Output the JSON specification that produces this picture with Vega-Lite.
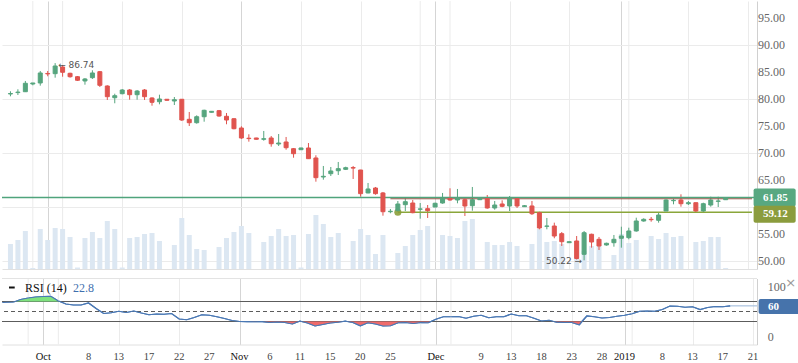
{
  "$schema": "https://vega.github.io/schema/vega-lite/v6.json",
  "padding": 0,
  "background": "white",
  "spacing": 5.5,
  "config": {"view": {"stroke": null}, "axis": {"labelFont": "Liberation Serif", "titleFont": "Liberation Serif"}},
  "datasets": {
    "candles": [
      {"i":0,"o":81.02,"h":81.52,"l":80.59,"c":81.11,"v":25},
      {"i":1,"o":81.28,"h":81.89,"l":80.83,"c":81.37,"v":29},
      {"i":2,"o":81.44,"h":83.43,"l":81.39,"c":83.00,"v":38},
      {"i":3,"o":82.87,"h":83.06,"l":82.63,"c":83.06,"v":1},
      {"i":4,"o":83.06,"h":85.28,"l":82.56,"c":84.91,"v":40},
      {"i":5,"o":84.82,"h":85.28,"l":84.30,"c":84.74,"v":29},
      {"i":6,"o":84.78,"h":86.74,"l":84.04,"c":86.20,"v":41},
      {"i":7,"o":86.02,"h":86.39,"l":84.22,"c":85.04,"v":40},
      {"i":8,"o":84.85,"h":84.96,"l":84.04,"c":84.22,"v":32},
      {"i":9,"o":84.22,"h":84.35,"l":83.43,"c":83.56,"v":1.5},
      {"i":10,"o":83.43,"h":83.98,"l":82.74,"c":83.80,"v":31},
      {"i":11,"o":84.04,"h":85.41,"l":83.80,"c":84.91,"v":37},
      {"i":12,"o":85.15,"h":85.28,"l":82.31,"c":82.63,"v":31},
      {"i":13,"o":82.50,"h":82.63,"l":79.91,"c":80.52,"v":48},
      {"i":14,"o":80.33,"h":81.07,"l":79.30,"c":80.70,"v":40},
      {"i":15,"o":81.07,"h":81.94,"l":80.96,"c":81.76,"v":1.5},
      {"i":16,"o":81.76,"h":81.94,"l":79.96,"c":80.89,"v":31},
      {"i":17,"o":80.89,"h":81.76,"l":79.96,"c":81.57,"v":32},
      {"i":18,"o":81.76,"h":81.94,"l":79.91,"c":80.52,"v":35},
      {"i":19,"o":80.28,"h":80.41,"l":78.85,"c":79.48,"v":36},
      {"i":20,"o":79.59,"h":80.89,"l":79.11,"c":80.09,"v":28},
      {"i":21,"o":80.04,"h":80.09,"l":79.80,"c":79.85,"v":0},
      {"i":22,"o":79.72,"h":80.46,"l":78.98,"c":79.96,"v":24},
      {"i":23,"o":80.04,"h":80.09,"l":76.02,"c":76.20,"v":51},
      {"i":24,"o":76.33,"h":77.69,"l":75.09,"c":75.70,"v":34},
      {"i":25,"o":75.70,"h":77.07,"l":75.52,"c":76.81,"v":20},
      {"i":26,"o":76.81,"h":78.11,"l":75.89,"c":78.00,"v":19},
      {"i":27,"o":77.63,"h":77.87,"l":77.57,"c":77.81,"v":0},
      {"i":28,"o":77.93,"h":78.06,"l":76.81,"c":76.94,"v":22},
      {"i":29,"o":76.89,"h":77.50,"l":75.41,"c":76.20,"v":31},
      {"i":30,"o":76.44,"h":76.52,"l":74.48,"c":74.59,"v":37},
      {"i":31,"o":74.72,"h":75.04,"l":72.69,"c":72.87,"v":43},
      {"i":32,"o":72.83,"h":73.56,"l":72.19,"c":72.76,"v":36},
      {"i":33,"o":72.87,"h":72.91,"l":72.56,"c":72.63,"v":0},
      {"i":34,"o":72.63,"h":74.17,"l":72.37,"c":72.74,"v":27},
      {"i":35,"o":72.87,"h":73.24,"l":71.26,"c":71.81,"v":33},
      {"i":36,"o":71.76,"h":73.61,"l":71.39,"c":71.94,"v":40},
      {"i":37,"o":72.13,"h":73.06,"l":70.70,"c":71.07,"v":33},
      {"i":38,"o":70.89,"h":71.02,"l":69.22,"c":69.96,"v":34},
      {"i":39,"o":70.70,"h":71.07,"l":70.67,"c":71.02,"v":1.5},
      {"i":40,"o":71.02,"h":71.94,"l":68.98,"c":69.04,"v":35},
      {"i":41,"o":69.17,"h":69.67,"l":64.78,"c":65.52,"v":54},
      {"i":42,"o":65.65,"h":67.69,"l":65.15,"c":65.78,"v":45},
      {"i":43,"o":66.26,"h":67.50,"l":65.83,"c":66.76,"v":32},
      {"i":44,"o":66.81,"h":68.43,"l":66.02,"c":67.19,"v":36},
      {"i":45,"o":67.07,"h":67.56,"l":66.94,"c":67.37,"v":0},
      {"i":46,"o":67.39,"h":67.69,"l":65.28,"c":67.30,"v":28},
      {"i":47,"o":66.94,"h":66.98,"l":62.00,"c":62.56,"v":40},
      {"i":48,"o":62.69,"h":64.54,"l":62.63,"c":63.43,"v":34},
      {"i":49,"o":63.61,"h":63.80,"l":62.37,"c":62.56,"v":15},
      {"i":50,"o":62.69,"h":62.87,"l":58.48,"c":59.22,"v":34},
      {"i":51,"o":59.22,"h":59.72,"l":58.93,"c":59.30,"v":0},
      {"i":52,"o":59.41,"h":61.20,"l":59.17,"c":60.65,"v":16},
      {"i":53,"o":60.52,"h":61.70,"l":59.35,"c":61.07,"v":23},
      {"i":54,"o":60.83,"h":61.39,"l":58.93,"c":59.04,"v":34},
      {"i":55,"o":59.67,"h":60.83,"l":57.93,"c":59.74,"v":39},
      {"i":56,"o":59.78,"h":60.46,"l":58.06,"c":59.41,"v":43},
      {"i":57,"o":60.09,"h":60.89,"l":60.04,"c":60.78,"v":0},
      {"i":58,"o":60.83,"h":62.69,"l":60.70,"c":61.70,"v":34},
      {"i":59,"o":61.70,"h":63.56,"l":61.26,"c":61.39,"v":33},
      {"i":60,"o":61.39,"h":63.43,"l":60.78,"c":61.81,"v":31},
      {"i":61,"o":61.44,"h":61.63,"l":58.43,"c":60.28,"v":48},
      {"i":62,"o":60.33,"h":63.80,"l":59.41,"c":61.44,"v":50},
      {"i":63,"o":61.44,"h":61.67,"l":61.41,"c":61.63,"v":0},
      {"i":64,"o":61.63,"h":62.31,"l":59.78,"c":59.91,"v":27},
      {"i":65,"o":59.91,"h":61.20,"l":59.59,"c":60.46,"v":24},
      {"i":66,"o":60.65,"h":61.33,"l":60.04,"c":60.22,"v":24},
      {"i":67,"o":60.28,"h":62.13,"l":59.35,"c":61.63,"v":27},
      {"i":68,"o":61.63,"h":61.67,"l":59.91,"c":60.28,"v":23},
      {"i":69,"o":60.15,"h":60.46,"l":60.09,"c":60.33,"v":0},
      {"i":70,"o":60.28,"h":61.20,"l":58.61,"c":58.85,"v":25},
      {"i":71,"o":59.04,"h":59.22,"l":55.96,"c":56.20,"v":40},
      {"i":72,"o":56.52,"h":58.06,"l":55.96,"c":56.57,"v":27},
      {"i":73,"o":56.57,"h":57.19,"l":54.30,"c":54.72,"v":28},
      {"i":74,"o":55.15,"h":55.46,"l":52.87,"c":53.67,"v":25},
      {"i":75,"o":53.48,"h":53.70,"l":53.44,"c":53.67,"v":0},
      {"i":76,"o":53.80,"h":54.72,"l":50.37,"c":50.56,"v":28},
      {"i":77,"o":51.33,"h":55.65,"l":50.22,"c":55.33,"v":18},
      {"i":78,"o":55.04,"h":55.15,"l":52.56,"c":53.61,"v":23},
      {"i":79,"o":54.11,"h":54.54,"l":52.13,"c":52.87,"v":30},
      {"i":80,"o":53.06,"h":53.48,"l":52.93,"c":53.37,"v":0},
      {"i":81,"o":53.48,"h":54.91,"l":52.74,"c":54.11,"v":14},
      {"i":82,"o":54.30,"h":56.44,"l":52.56,"c":54.72,"v":35},
      {"i":83,"o":54.41,"h":56.26,"l":54.11,"c":55.65,"v":26},
      {"i":84,"o":55.65,"h":58.11,"l":55.52,"c":57.50,"v":29},
      {"i":85,"o":57.50,"h":58.00,"l":57.37,"c":57.81,"v":0},
      {"i":86,"o":57.81,"h":58.24,"l":57.37,"c":57.74,"v":33},
      {"i":87,"o":57.63,"h":59.04,"l":57.19,"c":58.61,"v":30},
      {"i":88,"o":59.35,"h":61.52,"l":59.35,"c":61.39,"v":36},
      {"i":89,"o":61.26,"h":61.63,"l":60.59,"c":61.33,"v":32},
      {"i":90,"o":61.39,"h":62.44,"l":60.15,"c":60.70,"v":33},
      {"i":91,"o":60.70,"h":61.20,"l":60.46,"c":60.89,"v":0},
      {"i":92,"o":60.89,"h":60.89,"l":59.04,"c":59.35,"v":27},
      {"i":93,"o":59.35,"h":60.89,"l":59.17,"c":60.70,"v":28},
      {"i":94,"o":60.46,"h":62.00,"l":60.15,"c":61.39,"v":32},
      {"i":95,"o":61.15,"h":62.00,"l":60.09,"c":61.20,"v":32},
      {"i":96,"o":61.44,"h":61.89,"l":61.44,"c":61.85,"v":1}
    ],
    "rsi": [
      {"i":-0.4,"r":68},{"i":0,"r":68.5},{"i":1,"r":69},{"i":1.3,"r":70},{"i":2,"r":74},{"i":3,"r":77},{"i":4,"r":79},{"i":5,"r":80},{"i":6,"r":80.5},{"i":7,"r":71},{"i":7.2,"r":70},{"i":8,"r":65},{"i":9,"r":63},{"i":10,"r":63},{"i":11,"r":67},{"i":12,"r":56},{"i":13,"r":46},{"i":14,"r":47.5},{"i":15,"r":50.5},{"i":16,"r":48},{"i":17,"r":51},{"i":18,"r":47},{"i":19,"r":43.5},{"i":20,"r":45},{"i":21,"r":44.5},{"i":22,"r":46},{"i":23,"r":35},{"i":24,"r":33.5},{"i":25,"r":38},{"i":26,"r":43.5},{"i":27,"r":42.5},{"i":28,"r":39.5},{"i":29,"r":36},{"i":30,"r":32},{"i":31,"r":30},{"i":32,"r":29.7},{"i":33,"r":29.5},{"i":34,"r":29.8},{"i":35,"r":28},{"i":36,"r":29},{"i":37,"r":28},{"i":38,"r":25},{"i":38.85,"r":30},{"i":39,"r":30.8},{"i":39.2,"r":30},{"i":40,"r":27},{"i":41,"r":21},{"i":42,"r":24},{"i":43,"r":27},{"i":44,"r":28.5},{"i":44.7,"r":30},{"i":45,"r":30.6},{"i":45.25,"r":30},{"i":46,"r":28},{"i":47,"r":21.5},{"i":48,"r":27.5},{"i":49,"r":25},{"i":50,"r":21},{"i":51,"r":21.5},{"i":52,"r":27.5},{"i":53,"r":28},{"i":54,"r":26},{"i":55,"r":28},{"i":56,"r":27.5},{"i":56.35,"r":30},{"i":57,"r":34.5},{"i":58,"r":39.5},{"i":59,"r":39.5},{"i":60,"r":40},{"i":61,"r":36.5},{"i":62,"r":40.5},{"i":63,"r":42.5},{"i":64,"r":37.5},{"i":65,"r":39.5},{"i":66,"r":39.5},{"i":67,"r":45},{"i":68,"r":41.5},{"i":69,"r":41.5},{"i":70,"r":36.5},{"i":71,"r":31},{"i":72,"r":32.5},{"i":72.6,"r":30},{"i":73,"r":28.7},{"i":74,"r":28},{"i":75,"r":28},{"i":76,"r":23.5},{"i":76.35,"r":30},{"i":77,"r":41},{"i":78,"r":39.5},{"i":79,"r":37},{"i":80,"r":38},{"i":81,"r":40.5},{"i":82,"r":42.5},{"i":83,"r":45.5},{"i":84,"r":50.5},{"i":85,"r":51},{"i":86,"r":50.5},{"i":87,"r":54},{"i":88,"r":61},{"i":89,"r":60.5},{"i":90,"r":58.5},{"i":91,"r":59.5},{"i":92,"r":54},{"i":93,"r":58},{"i":94,"r":60},{"i":95,"r":59.5},{"i":96,"r":61.3}
    ],
    "extraGrid": [{"i":3},{"i":7},{"i":55},{"i":59},{"i":83}],
    "xTicks": [
      {"i":5,"label":"Oct","kind":"month"},{"i":11,"label":"8","kind":"day"},{"i":15,"label":"13","kind":"day"},{"i":19,"label":"17","kind":"day"},{"i":23,"label":"22","kind":"day"},{"i":27,"label":"27","kind":"day"},
      {"i":31,"label":"Nov","kind":"month"},{"i":35,"label":"6","kind":"day"},{"i":39,"label":"11","kind":"day"},{"i":43,"label":"15","kind":"day"},{"i":47,"label":"20","kind":"day"},{"i":51,"label":"25","kind":"day"},
      {"i":57,"label":"Dec","kind":"month"},{"i":63,"label":"9","kind":"day"},{"i":67,"label":"13","kind":"day"},{"i":71,"label":"18","kind":"day"},{"i":75,"label":"23","kind":"day"},{"i":79,"label":"28","kind":"day"},
      {"i":82,"label":"2019","kind":"month"},{"i":87,"label":"8","kind":"day"},{"i":91,"label":"13","kind":"day"},{"i":95,"label":"17","kind":"day"},{"i":99,"label":"21","kind":"day"}
    ],
    "priceTicks": [{"price":50},{"price":55},{"price":65},{"price":70},{"price":75},{"price":80},{"price":85},{"price":90},{"price":95}],
    "rsiTicks": [{"r":0},{"r":100}],
    "levels": [
      {"name":"last","price":61.85,"start":0,"label":"61.85"},
      {"name":"ask","price":61.62,"start":51,"label":""},
      {"name":"support","price":59.12,"start":52,"label":"59.12"}
    ],
    "notes": [
      {"i":6,"price":86.74,"label":"← 86.74","side":"high"},
      {"i":77,"price":50.22,"label":"50.22 →","side":"low"}
    ],
    "rsiLevels": [
      {"level":70,"kind":"solid"},{"level":30,"kind":"solid"},{"level":50,"kind":"dash"}
    ],
    "rsiInfo": [
      {"name":"RSI (14)","value":22.8,"tag":"60","tagValue":60}
    ]
  },
  "vconcat": [
    {
      "width": 755,
      "height": 268,
      "data": {"name": "candles"},
      "resolve": {"scale": {"y": "independent"}},
      "layer": [
        {
          "data": {"name": "extraGrid"},
          "mark": {"type": "rule", "color": "#ebebeb", "strokeWidth": 1},
          "encoding": {
            "x": {"field": "i", "type": "quantitative", "scale": {"domain": [-0.4636, 99.536], "nice": false, "zero": false}}
          }
        },
        {
          "mark": {"type": "bar", "size": 5, "color": "#dce7f2"},
          "encoding": {
            "x": {"field": "i", "type": "quantitative"},
            "y": {"field": "v", "type": "quantitative", "scale": {"domain": [0, 268], "nice": false}, "axis": null}
          }
        },
        {
          "layer": [
            {
              "mark": {"type": "rule", "strokeWidth": 1},
              "encoding": {
                "x": {"field": "i", "type": "quantitative", "scale": {"domain": [-0.4636, 99.536], "nice": false, "zero": false},
                  "axis": {"values": [5,11,15,19,23,27,31,35,39,43,47,51,57,63,67,71,75,79,82,87,91,95,99], "labels": false, "ticks": false, "domain": true, "domainColor": "#e0e0e0", "grid": true,
                    "gridColor": {"condition": {"test": "indexof([5,31,57,82], datum.value) >= 0", "value": "#d5d5d5"}, "value": "#ebebeb"}, "title": null}},
                "y": {"field": "l", "type": "quantitative", "scale": {"domain": [48.61, 98.24], "nice": false, "zero": false},
                  "axis": {"orient": "right", "values": [50,55,60,65,70,75,80,85,90,95], "labels": false, "grid": true, "gridColor": "#ebebeb", "ticks": true, "tickSize": 4, "tickColor": "#dddddd", "domain": true, "domainColor": "#d0d0d0", "title": null}},
                "y2": {"field": "h"},
                "color": {"condition": {"test": "datum.c >= datum.o", "value": "#56a57e"}, "value": "#e0544f"}
              }
            },
            {
              "data": {"name": "levels"},
              "transform": [{"filter": "datum.name == 'ask'"}],
              "mark": {"type": "rule", "color": "#a8473f", "strokeWidth": 1.2},
              "encoding": {
                "x": {"field": "start", "type": "quantitative"},
                "x2": {"datum": 99.536},
                "y": {"field": "price", "type": "quantitative"}
              }
            },
            {
              "data": {"name": "levels"},
              "transform": [{"filter": "datum.name == 'last'"}],
              "mark": {"type": "rule", "color": "#4fa47c", "strokeWidth": 1.4},
              "encoding": {"y": {"field": "price", "type": "quantitative"}}
            },
            {
              "data": {"name": "levels"},
              "transform": [{"filter": "datum.name == 'support'"}],
              "mark": {"type": "rule", "color": "#8aa63a", "strokeWidth": 1.4},
              "encoding": {
                "x": {"field": "start", "type": "quantitative"},
                "x2": {"datum": 99.536},
                "y": {"field": "price", "type": "quantitative"}
              }
            },
            {
              "data": {"name": "levels"},
              "transform": [{"filter": "datum.name == 'support'"}],
              "mark": {"type": "point", "filled": true, "size": 50, "color": "#8a9e3a", "opacity": 0.9},
              "encoding": {
                "x": {"field": "start", "type": "quantitative"},
                "y": {"field": "price", "type": "quantitative"}
              }
            },
            {
              "mark": {"type": "bar", "size": 4, "strokeWidth": 1},
              "encoding": {
                "x": {"field": "i", "type": "quantitative"},
                "y": {"field": "o", "type": "quantitative"},
                "y2": {"field": "c"},
                "color": {"condition": {"test": "datum.c >= datum.o", "value": "#56a57e"}, "value": "#e0544f"},
                "stroke": {"condition": {"test": "datum.c >= datum.o", "value": "#56a57e"}, "value": "#e0544f"}
              }
            },
            {
              "data": {"name": "notes"},
              "transform": [{"filter": "datum.side == 'high'"}],
              "mark": {"type": "text", "align": "left", "baseline": "middle", "dx": 3, "dy": 1.5, "font": "DejaVu Sans", "fontSize": 9, "color": "#555555"},
              "encoding": {
                "x": {"field": "i", "type": "quantitative"},
                "y": {"field": "price", "type": "quantitative"},
                "text": {"field": "label"}
              }
            },
            {
              "data": {"name": "notes"},
              "transform": [{"filter": "datum.side == 'low'"}],
              "mark": {"type": "text", "align": "right", "baseline": "middle", "dx": -2, "dy": 1, "font": "DejaVu Sans", "fontSize": 9, "color": "#555555"},
              "encoding": {
                "x": {"field": "i", "type": "quantitative"},
                "y": {"field": "price", "type": "quantitative"},
                "text": {"field": "label"}
              }
            },
            {
              "data": {"name": "priceTicks"},
              "mark": {"type": "text", "align": "left", "baseline": "middle", "font": "Liberation Serif", "fontSize": 12, "color": "#666666"},
              "encoding": {
                "x": {"datum": 100.33},
                "y": {"field": "price", "type": "quantitative"},
                "text": {"field": "price", "type": "quantitative", "format": ".2f"}
              }
            },
            {
              "data": {"name": "levels"},
              "transform": [{"filter": "datum.name == 'last'"}],
              "mark": {"type": "rect", "height": 18, "cornerRadius": 2, "color": "#58a881"},
              "encoding": {
                "x": {"datum": 99.75},
                "x2": {"datum": 105.4},
                "y": {"field": "price", "type": "quantitative"}
              }
            },
            {
              "data": {"name": "levels"},
              "transform": [{"filter": "datum.name == 'support'"}],
              "mark": {"type": "rect", "height": 17, "cornerRadius": 2, "color": "#8b9c3d", "yOffset": 2},
              "encoding": {
                "x": {"datum": 99.75},
                "x2": {"datum": 105.4},
                "y": {"field": "price", "type": "quantitative"}
              }
            },
            {
              "data": {"name": "levels"},
              "transform": [{"filter": "datum.name == 'last'"}],
              "mark": {"type": "text", "align": "left", "baseline": "middle", "font": "Liberation Serif", "fontWeight": "bold", "fontSize": 11, "color": "white"},
              "encoding": {
                "x": {"datum": 101.0},
                "y": {"field": "price", "type": "quantitative"},
                "text": {"field": "label"}
              }
            },
            {
              "data": {"name": "levels"},
              "transform": [{"filter": "datum.name == 'support'"}],
              "mark": {"type": "text", "align": "left", "baseline": "middle", "font": "Liberation Serif", "fontWeight": "bold", "fontSize": 11, "color": "white", "yOffset": 2},
              "encoding": {
                "x": {"datum": 101.0},
                "y": {"field": "price", "type": "quantitative"},
                "text": {"field": "label"}
              }
            }
          ]
        }
      ]
    },
    {
      "width": 755,
      "height": 66,
      "data": {"name": "rsi"},
      "layer": [
        {
          "mark": {"type": "line", "color": "#4a78b4", "strokeWidth": 1.2},
          "encoding": {
            "x": {"field": "i", "type": "quantitative", "scale": {"domain": [-0.4636, 99.536], "nice": false, "zero": false},
              "axis": {"values": [5,11,15,19,23,27,31,35,39,43,47,51,57,63,67,71,75,79,82,87,91,95,99],
                "labels": false, "ticks": false, "domain": true, "domainColor": "#e0e0e0", "grid": true,
                "gridColor": {"condition": {"test": "indexof([5,31,57,82], datum.value) >= 0", "value": "#d5d5d5"}, "value": "#ebebeb"}, "title": null}},
            "y": {"field": "r", "type": "quantitative", "scale": {"domain": [-16, 116], "nice": false, "zero": false},
              "axis": {"orient": "right", "values": [0, 100], "labels": false, "grid": false, "ticks": false, "domain": true, "domainColor": "#d0d0d0", "title": null}}
          }
        },
        {
          "data": {"name": "extraGrid"},
          "mark": {"type": "rule", "color": "#ebebeb", "strokeWidth": 1},
          "encoding": {"x": {"field": "i", "type": "quantitative"}}
        },
        {
          "data": {"name": "rsiLevels"},
          "transform": [{"filter": "datum.kind == 'solid'"}],
          "mark": {"type": "rule", "color": "#5c5c5c", "strokeWidth": 1},
          "encoding": {"y": {"field": "level", "type": "quantitative"}}
        },
        {
          "data": {"name": "rsiLevels"},
          "transform": [{"filter": "datum.kind == 'dash'"}],
          "mark": {"type": "rule", "color": "#5c5c5c", "strokeWidth": 1, "strokeDash": [4, 3]},
          "encoding": {"y": {"field": "level", "type": "quantitative"}}
        },
        {
          "transform": [{"filter": "datum.r >= 70"}],
          "mark": {"type": "area", "color": "#7fe27f"},
          "encoding": {
            "x": {"field": "i", "type": "quantitative"},
            "y": {"field": "r", "type": "quantitative"},
            "y2": {"datum": 70}
          }
        },
        {
          "transform": [{"filter": "datum.r <= 30"}],
          "mark": {"type": "area", "color": "#ef6b6b"},
          "encoding": {
            "x": {"field": "i", "type": "quantitative"},
            "y": {"field": "r", "type": "quantitative"},
            "y2": {"datum": 30}
          }
        },
        {
          "mark": {"type": "line", "color": "#4a78b4", "strokeWidth": 1.2},
          "encoding": {
            "x": {"field": "i", "type": "quantitative"},
            "y": {"field": "r", "type": "quantitative"}
          }
        },
        {
          "data": {"values": [{"from": 96, "to": 99.536, "r": 61.3}]},
          "mark": {"type": "rule", "color": "#a9c1de", "strokeWidth": 1.2},
          "encoding": {
            "x": {"field": "from", "type": "quantitative"},
            "x2": {"field": "to"},
            "y": {"field": "r", "type": "quantitative"}
          }
        },
        {
          "data": {"values": [{"edge": 116}]},
          "mark": {"type": "rule", "color": "#e3e3e3", "strokeWidth": 1},
          "encoding": {"y": {"field": "edge", "type": "quantitative"}}
        },
        {
          "data": {"name": "xTicks"},
          "mark": {"type": "text", "align": "center", "baseline": "middle", "dy": 12, "font": "Liberation Serif", "fontSize": 10.5},
          "encoding": {
            "x": {"field": "i", "type": "quantitative"},
            "y": {"datum": -16},
            "text": {"field": "label"},
            "color": {"condition": {"test": "datum.kind == 'month'", "value": "#111111"}, "value": "#444444"}
          }
        },
        {
          "data": {"name": "rsiTicks"},
          "mark": {"type": "text", "align": "left", "baseline": "middle", "font": "Liberation Serif", "fontSize": 12, "color": "#666666"},
          "encoding": {
            "x": {"datum": 100.95},
            "y": {"field": "r", "type": "quantitative"},
            "text": {"field": "r", "type": "quantitative", "format": "d"}
          }
        },
        {
          "data": {"name": "rsiInfo"},
          "mark": {"type": "rect", "height": 15, "cornerRadius": 2, "color": "#4673ab"},
          "encoding": {
            "x": {"datum": 99.75},
            "x2": {"datum": 105.4},
            "y": {"field": "tagValue", "type": "quantitative"}
          }
        },
        {
          "data": {"name": "rsiInfo"},
          "mark": {"type": "text", "align": "left", "baseline": "middle", "font": "Liberation Serif", "fontWeight": "bold", "fontSize": 11, "color": "white"},
          "encoding": {
            "x": {"datum": 101.0},
            "y": {"field": "tagValue", "type": "quantitative"},
            "text": {"field": "tag"}
          }
        },
        {
          "data": {"name": "rsiInfo"},
          "mark": {"type": "rule", "color": "#111111", "strokeWidth": 2},
          "encoding": {
            "x": {"datum": 0.46},
            "x2": {"datum": 1.22},
            "y": {"datum": 98}
          }
        },
        {
          "data": {"name": "rsiInfo"},
          "mark": {"type": "text", "align": "left", "baseline": "middle", "font": "Liberation Serif", "fontSize": 12, "color": "#111111"},
          "encoding": {
            "x": {"datum": 2.58},
            "y": {"datum": 98},
            "text": {"field": "name"}
          }
        },
        {
          "data": {"name": "rsiInfo"},
          "mark": {"type": "text", "align": "left", "baseline": "middle", "font": "Liberation Serif", "fontSize": 12, "color": "#3f6fae"},
          "encoding": {
            "x": {"datum": 8.94},
            "y": {"datum": 98},
            "text": {"field": "value", "format": ".1f"}
          }
        },
        {
          "data": {"values": [{"s": "×"}]},
          "mark": {"type": "text", "align": "center", "baseline": "middle", "font": "DejaVu Sans", "fontSize": 13, "color": "#9a9a9a"},
          "encoding": {
            "x": {"datum": 104.0},
            "y": {"datum": 108},
            "text": {"field": "s"}
          }
        }
      ]
    }
  ]
}
